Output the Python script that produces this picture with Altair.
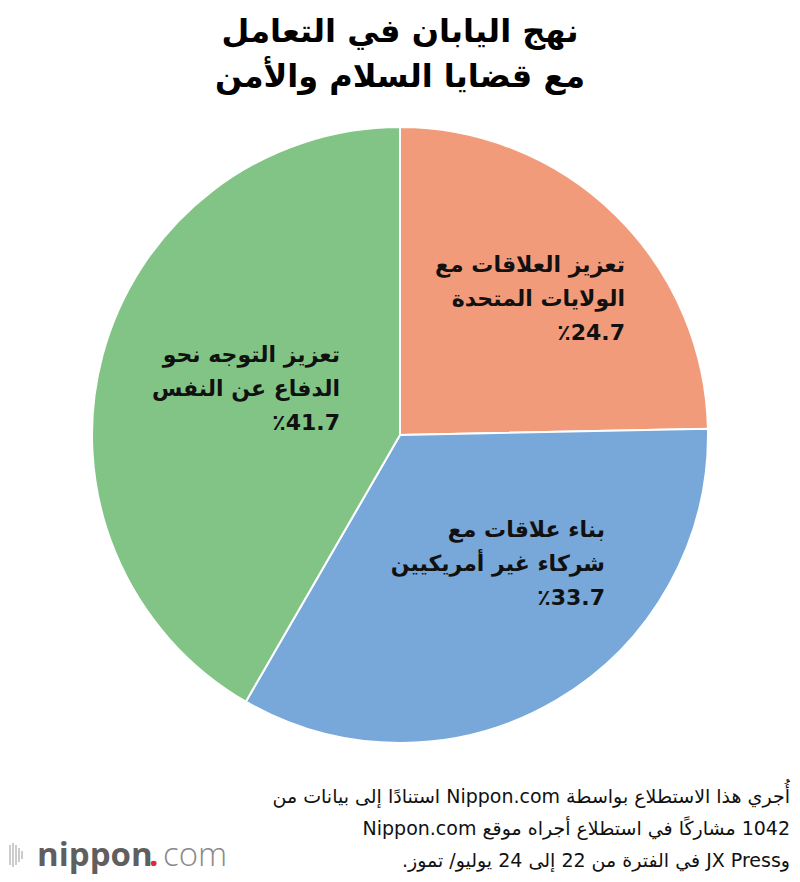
import altair as alt
import pandas as pd

# ---- data ----
categories = ["us", "nonus", "self"]
values = [24.7, 33.7, 41.7]
colors = ["#F19B7A", "#77A8D9", "#82C486"]

title_lines = ["نهج اليابان في التعامل", "مع قضايا السلام والأمن"]
label_us = ["تعزيز العلاقات مع", "الولايات المتحدة", "٪24.7"]
label_nonus = ["بناء علاقات مع", "شركاء غير أمريكيين", "٪33.7"]
label_self = ["تعزيز التوجه نحو", "الدفاع عن النفس", "٪41.7"]
footnote_lines = [
    "أُجري هذا الاستطلاع بواسطة Nippon.com استنادًا إلى بيانات من",
    "1042 مشاركًا في استطلاع أجراه موقع Nippon.com",
    "وJX Press في الفترة من 22 إلى 24 يوليو/ تموز.",
]
logo_parts = ["nippon", ".", "com"]
logo_bar_heights = [8, 14, 20, 24, 20, 14, 8]

W, H = 784, 874
CX, CY, R = 392, 427, 308
FONT = "DejaVu Sans"
RLI, PDI = "\u2067", "\u2069"

df = pd.DataFrame({"cat": categories, "value": values, "order": list(range(len(values)))})
one = pd.DataFrame({"a": [0]})

pie = alt.Chart(df).mark_arc(outerRadius=R, stroke="white", strokeWidth=2).encode(
    theta=alt.Theta("value:Q", stack=True),
    color=alt.Color("cat:N", scale=alt.Scale(domain=categories, range=colors), legend=None),
    order=alt.Order("order:Q"),
    x=alt.value(CX),
    y=alt.value(CY),
)

def rtl(lines):
    return [RLI + s + PDI for s in lines]

def text_block(lines, x, y, size, weight="bold", align="right", lh=34, color="#111", font=FONT):
    return alt.Chart(one).mark_text(
        text=lines, align=align, baseline="middle", fontSize=size, fontWeight=weight,
        lineHeight=lh, color=color, font=font
    ).encode(x=alt.value(x), y=alt.value(y))

title = text_block(rtl(title_lines), 392, 24, 32, align="center", lh=45, color="#000")
l_us = text_block(rtl(label_us), 617, 257, 22)
l_nonus = text_block(rtl(label_nonus), 597, 522, 22)
l_self = text_block(rtl(label_self), 332, 347, 22)
foot = text_block(rtl(footnote_lines), 782, 789, 19, weight="normal", lh=32, color="#111")

logo1 = alt.Chart(one).mark_text(text=logo_parts[0], align="left", baseline="alphabetic", fontSize=33,
                                  fontWeight="bold", color="#5f5f5f", font="Open Sans").encode(
    x=alt.value(29), y=alt.value(858))
logo2 = alt.Chart(one).mark_text(text=logo_parts[1], align="left", baseline="alphabetic", fontSize=33,
                                  fontWeight="bold", color="#e8262b", font="Open Sans").encode(
    x=alt.value(141), y=alt.value(858))
logo3 = alt.Chart(one).mark_text(text=logo_parts[2], align="left", baseline="alphabetic", fontSize=33,
                                  fontWeight=300, color="#8a8a8a", font="Open Sans").encode(
    x=alt.value(155), y=alt.value(858))

bars_df = pd.DataFrame({"i": list(range(len(logo_bar_heights))), "h": logo_bar_heights})
bars_df["lo"] = -bars_df["h"] / 2
bars_df["hi"] = bars_df["h"] / 2
logo_bars = alt.Chart(bars_df).mark_rule(color="#bbbbbb", strokeWidth=1.5).encode(
    x=alt.X("i:Q", scale=alt.Scale(domain=[0, len(logo_bar_heights) - 1], range=[-4, 14]), axis=None),
    y=alt.Y("lo:Q", scale=alt.Scale(domain=[-12, 12], range=[859, 835]), axis=None),
    y2="hi:Q",
)

chart = alt.layer(pie, title, l_us, l_nonus, l_self, foot, logo_bars, logo1, logo2, logo3).resolve_scale(
    x="independent", y="independent"
).properties(
    width=W, height=H, padding=0, autosize="none", background="white"
).configure_view(stroke=None)

chart.save("out.html", embed_options={"renderer": "svg", "actions": False})
